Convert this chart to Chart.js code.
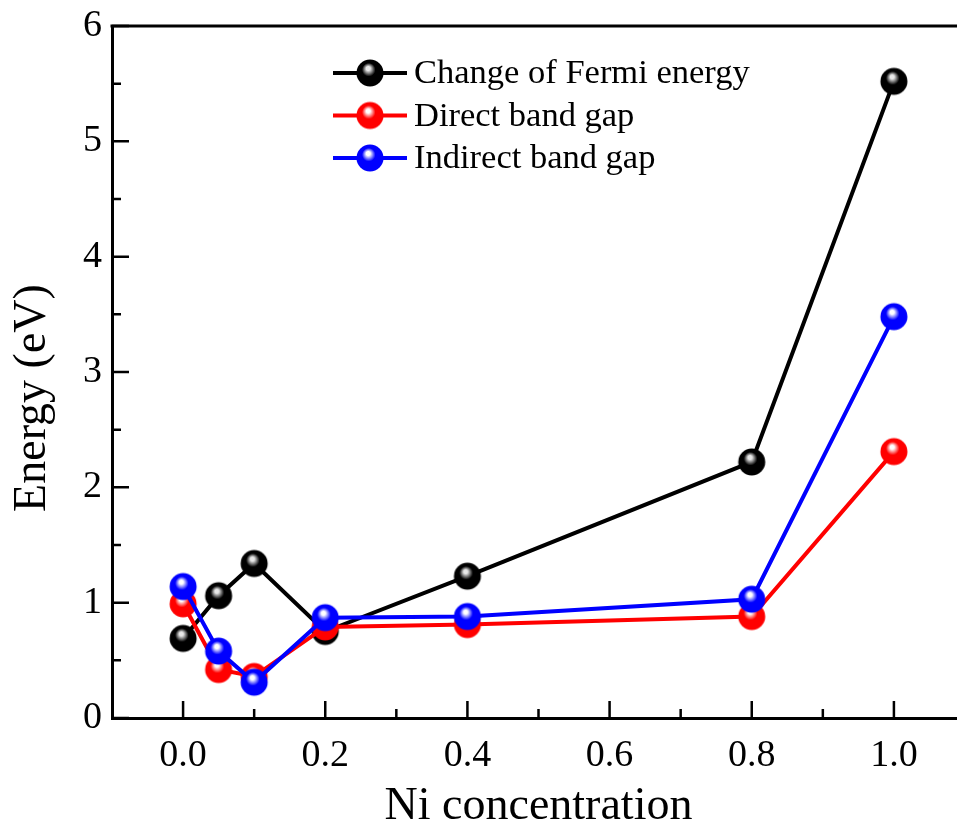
<!DOCTYPE html>
<html>
<head>
<meta charset="utf-8">
<script src="https://cdn.jsdelivr.net/npm/chart.js@4.4.1/dist/chart.umd.min.js"></script>
<style>
  html, body { margin: 0; padding: 0; background: #fff; overflow: hidden; }
</style>
</head>
<body>
<canvas id="energyChart" width="983" height="832"></canvas>
<script>
// values
const niConcentration = [0.0, 0.05, 0.1, 0.2, 0.4, 0.8, 1.0];
const fermiChange = [0.69, 1.06, 1.34, 0.75, 1.23, 2.22, 5.52];
const directGap = [0.99, 0.42, 0.36, 0.79, 0.81, 0.88, 2.31];
const indirectGap = [1.14, 0.58, 0.31, 0.87, 0.88, 1.03, 3.48];
const xTickValues = [0.0, 0.2, 0.4, 0.6, 0.8, 1.0];
const xMinorValues = [0.1, 0.3, 0.5, 0.7, 0.9];
const yTickValues = [0, 1, 2, 3, 4, 5, 6];
const yMinorValues = [0.5, 1.5, 2.5, 3.5, 4.5, 5.5];
const yTitle = 'Energy (eV)';

const FONT = "'Liberation Serif', 'Times New Roman', serif";

function makeSphere(color, shine) {
    const r = 13.5;
    const c = document.createElement('canvas');
    c.width = 30;
    c.height = 30;
    const ctx = c.getContext('2d');
    const g = ctx.createRadialGradient(13, 10, 0, 14.5, 13.5, r);
    g.addColorStop(0, shine);
    g.addColorStop(0.15, shine);
    g.addColorStop(0.5, color);
    g.addColorStop(1, color);
    ctx.fillStyle = g;
    ctx.beginPath();
    ctx.arc(15, 15, r, 0, Math.PI * 2);
    ctx.fill();
    return c;
}

const blackBall = makeSphere('#000000', '#e8e8e8');
const redBall = makeSphere('#ff0000', '#ffffff');
const blueBall = makeSphere('#0000ff', '#ffffff');

function toPoints(ys) {
    return niConcentration.map((x, i) => ({ x: x, y: ys[i] }));
}

// inward ticks, top frame line and the y title
const frameTicks = {
    id: 'frameTicks',
    afterDraw(chart) {
        const ctx = chart.ctx;
        const area = chart.chartArea;
        const xs = chart.scales.x;
        const ys = chart.scales.y;
        ctx.save();
        ctx.strokeStyle = '#000';
        ctx.lineWidth = 3;
        ctx.beginPath();
        ctx.moveTo(area.left - 1.5, area.top);
        ctx.lineTo(area.right, area.top);
        ctx.stroke();
        ctx.lineWidth = 2.5;
        ctx.beginPath();
        xTickValues.forEach(v => {
            const px = xs.getPixelForValue(v);
            ctx.moveTo(px, area.bottom);
            ctx.lineTo(px, area.bottom - 17);
        });
        xMinorValues.forEach(v => {
            const px = xs.getPixelForValue(v);
            ctx.moveTo(px, area.bottom);
            ctx.lineTo(px, area.bottom - 9);
        });
        yTickValues.forEach(v => {
            const py = ys.getPixelForValue(v);
            ctx.moveTo(area.left, py);
            ctx.lineTo(area.left + 17, py);
        });
        yMinorValues.forEach(v => {
            const py = ys.getPixelForValue(v);
            ctx.moveTo(area.left, py);
            ctx.lineTo(area.left + 9, py);
        });
        ctx.stroke();

        ctx.translate(45, (area.top + area.bottom) / 2 + 26);
        ctx.rotate(-Math.PI / 2);
        ctx.fillStyle = '#000';
        ctx.font = '46px ' + FONT;
        ctx.textAlign = 'center';
        ctx.textBaseline = 'alphabetic';
        ctx.fillText(yTitle, 0, 0);
        ctx.restore();
    }
};

// legend with line through the marker
const lineLegend = {
    id: 'lineLegend',
    afterDraw(chart) {
        const ctx = chart.ctx;
        const x0 = 333, x1 = 407, rowTop = 73, rowGap = 42.5;
        ctx.save();
        chart.data.datasets.forEach((ds, i) => {
            const y = rowTop + i * rowGap;
            ctx.strokeStyle = ds.borderColor;
            ctx.lineWidth = 4;
            ctx.beginPath();
            ctx.moveTo(x0, y);
            ctx.lineTo(x1, y);
            ctx.stroke();
            ctx.drawImage(ds.pointStyle, (x0 + x1) / 2 - 15, y - 15);
            ctx.fillStyle = '#000';
            ctx.font = '34.5px ' + FONT;
            ctx.textBaseline = 'middle';
            ctx.fillText(ds.label, 414, y + 1);
        });
        ctx.restore();
    }
};

const context = document.getElementById('energyChart').getContext('2d');
new Chart(context, {
    type: 'line',
    data: {
        datasets: [
            {
                label: 'Change of Fermi energy',
                data: toPoints(fermiChange),
                borderColor: '#000000',
                pointStyle: blackBall,
                order: 3
            },
            {
                label: 'Direct band gap',
                data: toPoints(directGap),
                borderColor: '#ff0000',
                pointStyle: redBall,
                order: 2
            },
            {
                label: 'Indirect band gap',
                data: toPoints(indirectGap),
                borderColor: '#0000ff',
                pointStyle: blueBall,
                order: 1
            }
        ]
    },
    options: {
        responsive: false,
        animation: false,
        devicePixelRatio: 1,
        datasets: {
            line: {
                borderWidth: 4,
                tension: 0,
                fill: false,
                pointRadius: 14,
                clip: false
            }
        },
        layout: { padding: { top: 26, right: 0, left: 0, bottom: 0 } },
        plugins: {
            legend: { display: false },
            tooltip: { enabled: false }
        },
        scales: {
            x: {
                type: 'linear',
                min: -0.1,
                max: 1.1,
                afterBuildTicks: scale => {
                    scale.ticks = xTickValues.map(v => ({ value: v }));
                },
                afterFit: scale => {
                    scale.height = 114;
                },
                ticks: {
                    callback: v => v.toFixed(1),
                    color: '#000',
                    font: { family: FONT, size: 38 },
                    padding: 15,
                    maxRotation: 0
                },
                grid: { display: true, drawOnChartArea: false, drawTicks: false },
                border: { display: true, color: '#000', width: 3 },
                title: {
                    display: true,
                    text: 'Ni concentration',
                    color: '#000',
                    font: { family: FONT, size: 46 },
                    padding: { top: 0, bottom: -3 }
                }
            },
            y: {
                min: 0,
                max: 6,
                afterBuildTicks: scale => {
                    scale.ticks = yTickValues.map(v => ({ value: v }));
                },
                afterFit: scale => {
                    scale.width = 112;
                    scale.paddingTop = 0;
                    scale.paddingBottom = 0;
                },
                ticks: {
                    color: '#000',
                    font: { family: FONT, size: 38 },
                    padding: 10
                },
                grid: { display: true, drawOnChartArea: false, drawTicks: false },
                border: { display: true, color: '#000', width: 3 }
            }
        }
    },
    plugins: [frameTicks, lineLegend]
});
</script>
</body>
</html>
